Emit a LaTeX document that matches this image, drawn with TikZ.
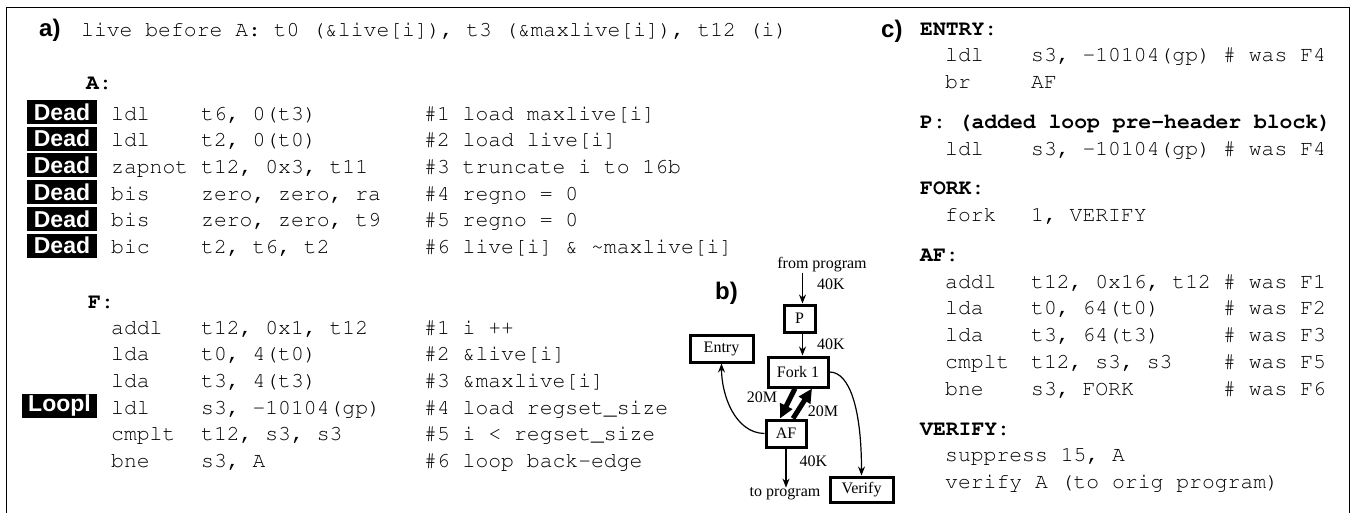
\documentclass[tikz,border=0pt]{standalone}
\usepackage[T1]{fontenc}
\usepackage{fontspec}
\setmainfont{Liberation Serif}
\newfontfamily\sansf{Liberation Sans}
\usetikzlibrary{calc,arrows.meta}
\newcommand\codefont{\fontencoding{T1}\fontfamily{pcr}\fontseries{m}\fontshape{n}\fontsize{21.4}{26}\selectfont}
\newcommand\codebfont{\fontencoding{T1}\fontfamily{pcr}\fontseries{b}\fontshape{n}\fontsize{21.4}{26}\selectfont}
\newcommand\tagfont{\sansf\bfseries\fontsize{23}{26}\selectfont}
\newcommand\panelfont{\sansf\bfseries\fontsize{24}{28}\selectfont}
\newcommand\smallserif{\rmfamily\fontsize{16}{18}\selectfont}
% left code row: name, baseline, mnemonic, operands, comment
\newcommand\crowa[5]{%
  \node[code] (#1m) at (111,#2) {#3};
  \node[code] (#1o) at (201,#2) {#4};
  \node[code] (#1c) at (424,#2) {#5};}
% right code row
\newcommand\crowc[5]{%
  \node[code] (#1m) at (945,#2) {#3};
  \node[code] (#1o) at (1031,#2) {#4};
  \node[code] (#1c) at (1223,#2) {#5};}
\begin{document}
\begin{tikzpicture}[x=1pt,y=-1pt,
  code/.style={font=\codefont, anchor=base west, inner sep=0pt},
  codeb/.style={font=\codebfont, anchor=base west, inner sep=0pt},
  tagbox/.style={fill=black, text=white, font=\tagfont, inner sep=0pt, minimum height=24pt, anchor=center},
  panel/.style={font=\panelfont, anchor=base west, inner sep=0pt},
  blk/.style={draw, line width=3pt, font=\smallserif, inner sep=0pt, anchor=center},
  ann/.style={font=\smallserif, inner sep=0pt, anchor=center},
  arr/.style={-{Stealth[length=9pt,width=7pt]}, line width=1.2pt},
  fat/.style={-{Triangle[length=14pt,width=13pt]}, line width=5pt},
]
\useasboundingbox (0,0) rectangle (1353,512);
\fill[white] (0,0) rectangle (1353,512);
\draw[line width=1.8pt] (6.5,7.5) rectangle (1349.5,540);

% ---------------- a) ----------------
\node[panel] (la) at (39,36) {a)};
\node[code] (hdr) at (81,36) {live before A: t0 (\&live[i]), t3 (\&maxlive[i]), t12 (i)};
\node[codeb] (lA) at (86,89) {A:};
\crowa{a1}{120}{ldl}{t6, 0(t3)}{\#1 load maxlive[i]}
\crowa{a2}{146.7}{ldl}{t2, 0(t0)}{\#2 load live[i]}
\crowa{a3}{173.4}{zapnot}{t12, 0x3, t11}{\#3 truncate i to 16b}
\crowa{a4}{200.1}{bis}{zero, zero, ra}{\#4 regno = 0}
\crowa{a5}{226.8}{bis}{zero, zero, t9}{\#5 regno = 0}
\crowa{a6}{253.5}{bic}{t2, t6, t2}{\#6 live[i] \& \textasciitilde maxlive[i]}
\foreach \yy [count=\k] in {120,146.7,173.4,200.1,226.8,253.5}
  \node[tagbox, minimum width=70pt] (dead\k) at (62,\yy-8) {Dead};

\node[codeb] (lF) at (88,308) {F:};
\crowa{f1}{334}{addl}{t12, 0x1, t12}{\#1 i ++}
\crowa{f2}{360.7}{lda}{t0, 4(t0)}{\#2 \&live[i]}
\crowa{f3}{387.4}{lda}{t3, 4(t3)}{\#3 \&maxlive[i]}
\crowa{f4}{414.1}{ldl}{s3, -10104(gp)}{\#4 load regset\_size}
\crowa{f5}{440.8}{cmplt}{t12, s3, s3}{\#5 i < regset\_size}
\crowa{f6}{467.5}{bne}{s3, A}{\#6 loop back-edge}
\node[tagbox, minimum width=75pt] (loopi) at (59.5,406) {Loopl};

% ---------------- b) ----------------
\node[panel] (lb) at (715,299) {b)};
\node[ann] (from) at (822,265) {from program};
\node[blk, minimum width=31pt, minimum height=27pt] (P) at (799.5,318.5) {P};
\node[blk, minimum width=60pt, minimum height=30pt] (Fork) at (798,372) {Fork 1};
\node[blk, minimum width=63pt, minimum height=27pt] (Entry) at (721.5,348.5) {Entry};
\node[blk, minimum width=40pt, minimum height=27pt] (AF) at (786,433.5) {AF};
\node[blk, minimum width=63pt, minimum height=25pt] (Verify) at (861.5,489.5) {Verify};
\node[ann] (to) at (785,494) {to program};
\node[ann] (k1) at (831,284) {40K};
\node[ann] (k2) at (831,344) {40K};
\node[ann] (k3) at (813.5,461) {40K};
\node[ann] (m1) at (762,397) {20M};
\node[ann] (m2) at (823,411) {20M};

\draw[arr] ($(from.south -| P.north)+(3,0)$) -- ($(P.north)+(3,0)$);
\draw[arr] ($(P.south)+(3,0)$) -- ($(P.south |- Fork.north)+(3,0)$);
\draw[arr] (AF.south) -- (AF.south |- to.north);
\draw[fat] ($(Fork.south)+(-3,0)$) -- ($(AF.north)+(-6,0)$);
\draw[fat] ($(AF.north)+(7,0)$) -- ($(Fork.south)+(14,0)$);
\draw[arr] (AF.west) .. controls (735,433) and (721.5,395) .. (Entry.south);
\draw[arr] (Fork.east) .. controls (850,372) and (861.5,410) .. (Verify.north);

% ---------------- c) ----------------
\node[panel] (lc) at (881,37) {c)};
\node[codeb] (cENTRY) at (920,35) {ENTRY:};
\crowc{ce1}{61.8}{ldl}{s3, -10104(gp)}{\# was F4}
\node[code] (ce2m) at (945,88.6) {br};
\node[code] (ce2o) at (1031,88.6) {AF};
\node[codeb] (cP) at (920,128.3) {P: (added loop pre-header block)};
\crowc{cp1}{155.1}{ldl}{s3, -10104(gp)}{\# was F4}
\node[codeb] (cFORK) at (920,194.8) {FORK:};
\node[code] (cf1m) at (945,221.6) {fork};
\node[code] (cf1o) at (1031,221.6) {1, VERIFY};
\node[codeb] (cAF) at (920,261.3) {AF:};
\crowc{caf1}{288.1}{addl}{t12, 0x16, t12}{\# was F1}
\crowc{caf2}{314.9}{lda}{t0, 64(t0)}{\# was F2}
\crowc{caf3}{341.7}{lda}{t3, 64(t3)}{\# was F3}
\crowc{caf4}{368.5}{cmplt}{t12, s3, s3}{\# was F5}
\crowc{caf5}{395.3}{bne}{s3, FORK}{\# was F6}
\node[codeb] (cVER) at (920,435) {VERIFY:};
\node[code] (cv1) at (945,461.8) {suppress 15, A};
\node[code] (cv2) at (945,488.6) {verify A (to orig program)};
\end{tikzpicture}
\end{document}
